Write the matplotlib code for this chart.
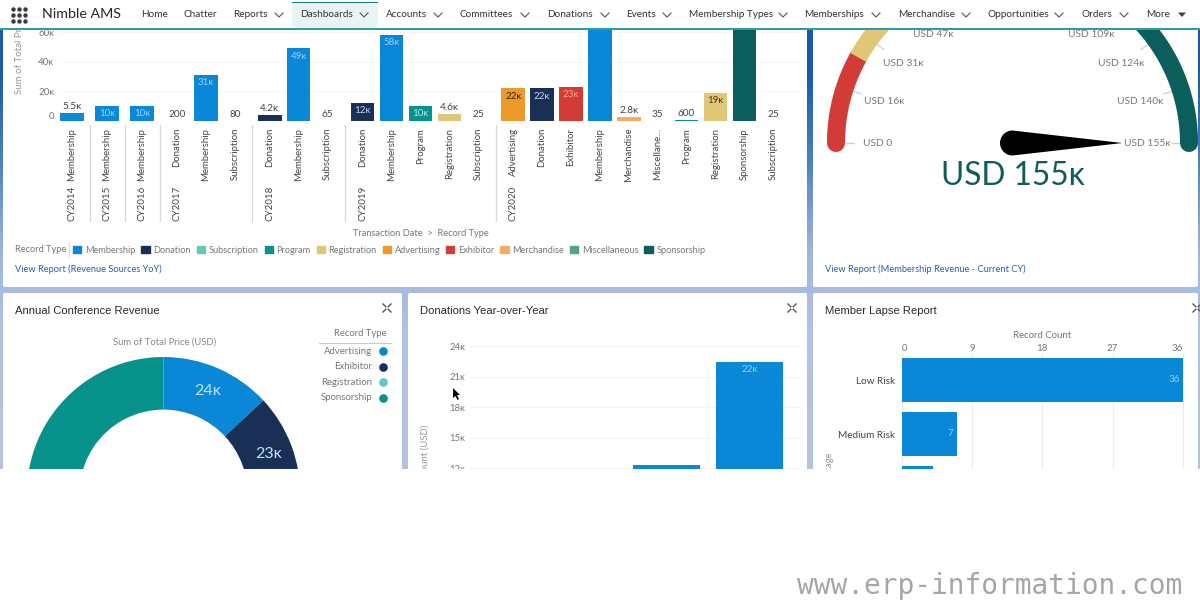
# plot.py
# Salesforce style dashboard screenshot: bars, gauge, donut, two cut off charts
import numpy as np
import matplotlib
matplotlib.use("Agg")
import matplotlib.pyplot as plt
from matplotlib.patches import FancyBboxPatch, Patch, Polygon, Rectangle

plt.rcParams['font.family'] = ['Lato', 'DejaVu Sans']

W, H = 1200, 600

nav_items = ["Home", "Chatter", "Reports", "Dashboards", "Accounts", "Committees", "Donations",
             "Events", "Membership Types", "Memberships", "Merchandise", "Opportunities", "Orders", "More"]
nav_has_chevron = [False, False, True, True, True, True, True, True, True, True, True, True, True, False]

# revenue sources
year_groups = ["CY2014", "CY2015", "CY2016", "CY2017", "CY2018", "CY2019", "CY2020"]
group_sizes = [1, 1, 1, 3, 3, 5, 10]
record_types = ["Membership", "Membership", "Membership",
                "Donation", "Membership", "Subscription",
                "Donation", "Membership", "Subscription",
                "Donation", "Membership", "Program", "Registration", "Subscription",
                "Advertising", "Donation", "Exhibitor", "Membership", "Merchandise",
                "Miscellaneous", "Program", "Registration", "Sponsorship", "Subscription"]
revenue = [5500, 10000, 10000,
           200, 31000, 80,
           4200, 49000, 65,
           12000, 58000, 10000, 4600, 25,
           22000, 22000, 23000, 155000, 2800,
           35, 600, 19000, 90000, 25]
legend_types = ["Membership", "Donation", "Subscription", "Program", "Registration",
                "Advertising", "Exhibitor", "Merchandise", "Miscellaneous", "Sponsorship"]
type_colors = {"Membership": "#0b87d8", "Donation": "#1a2f55", "Subscription": "#62c9b8",
               "Program": "#06918a", "Registration": "#e0c777", "Advertising": "#ee9a2a",
               "Exhibitor": "#d23c36", "Merchandise": "#f7ab63", "Miscellaneous": "#55a089",
               "Sponsorship": "#0a5f5c"}
inside_label_colors = {"Membership": "#8ad4ff", "Donation": "#c5d3f2", "Program": "#a8f0ea",
                       "Registration": "#4a3c10", "Advertising": "#3a2405", "Exhibitor": "#ffa398"}

# gauge
gauge_max = 155
gauge_tick_values = [0, 15.5, 31, 46.5, 108.5, 124, 139.5, 155]
gauge_tick_labels = ["USD 0", "USD 16ĸ", "USD 31ĸ", "USD 47ĸ", "USD 109ĸ", "USD 124ĸ", "USD 140ĸ", "USD 155ĸ"]
gauge_segment_ends = [25, 60, 155]
gauge_segment_colors = ["#d23c36", "#e0c777", "#0a5f5c"]
gauge_value = 155

# annual conference
conf_types = ["Advertising", "Exhibitor", "Registration", "Sponsorship"]
conf_values = [24, 23, 22, 115]
conf_labels = ["24ĸ", "23ĸ"]
conf_colors = ["#0b87d8", "#1a2f55", "#62c9b8", "#06918a"]

# donations
donation_years = ["CY2018", "CY2019", "CY2020"]
donation_values = [4.2, 12.3, 22.4]
donation_ticks = [12, 15, 18, 21, 24]

# member lapse
lapse_cats = ["Low Risk", "Medium Risk", "High Risk"]
lapse_counts = [36, 7, 4]
lapse_ticks = [0, 9, 18, 27, 36]

LABEL = "#454545"
LINK = "#2a5ea8"
TITLE = "#2b2b2b"
TITLE_FONT = ["Liberation Sans", "DejaVu Sans"]


def fmt_k(v):
    if v < 1000:
        return str(v)
    if v >= 10000:
        return f"{round(v / 1000)}ĸ"
    return f"{v / 1000:.1f}ĸ"


def px_axes(x0, y0, x1, y1, zorder=2):
    ax = fig.add_axes([x0 / W, 1 - y1 / H, (x1 - x0) / W, (y1 - y0) / H], zorder=zorder)
    ax.patch.set_visible(False)
    return ax


def bare(ax):
    for s in ax.spines.values():
        s.set_visible(False)
    ax.tick_params(length=0)


fig = plt.figure(figsize=(12, 6), dpi=100, facecolor="white")

# page layer, in pixels
bg = px_axes(0, 0, W, H, zorder=0)
bg.axis("off")
grad = np.array([[0.10, 0.36, 0.66], [0.30, 0.50, 0.75], [0.62, 0.71, 0.86], [0.71, 0.76, 0.89], [0.72, 0.76, 0.89]])
bg.imshow(grad[:, None, :], extent=(0, W, 470, 29), aspect="auto", interpolation="bilinear", zorder=0)
bg.set_xlim(0, W)
bg.set_ylim(H, 0)
for x0, y0, x1, y1 in [(3, 20, 807, 287), (813, 20, 1198, 287), (3, 293, 402, 480), (408, 293, 807, 480), (813, 293, 1198, 480)]:
    bg.add_patch(FancyBboxPatch((x0 + 2, y0 + 2), x1 - x0 - 4, y1 - y0 - 4, boxstyle="round,pad=2",
                                fc="white", ec="none", zorder=1))

# revenue bars
ax1 = px_axes(60, 29, 800, 121)
pos = []
p = 0.0
slot = 28.9
gap = 35 / slot
group_first = []
group_seps = []
for size in group_sizes:
    group_first.append(p)
    pos.extend(p + i for i in range(size))
    p += size - 1
    group_seps.append(p + gap / 2)
    p += gap
pos = np.array(pos)
x_left = -(72 - 60) / slot
ax1.bar(pos, revenue, width=0.81, color=[type_colors[t] for t in record_types], zorder=3)
ax1.set_yticks([0, 20000, 40000, 60000], ["0", "20ĸ", "40ĸ", "60ĸ"], fontsize=7, color="#777777")
ax1.set_xticks(pos, [t if t != "Miscellaneous" else "Miscellane..." for t in record_types],
               rotation=90, fontsize=6.9, color=LABEL)
ax1.set_xlim(x_left, x_left + 740 / slot)
ax1.set_ylim(0, 92 / 1.48 * 1000)
bare(ax1)
ax1.tick_params(axis="x", pad=5)
ax1.tick_params(axis="y", pad=4)
ax1.get_yticklabels()[0].set_verticalalignment("bottom")
ax1.grid(axis="y", color="#f6f6f6", lw=0.7, zorder=0)
for x, v, t in zip(pos, revenue, record_types):
    if v > ax1.get_ylim()[1]:
        continue
    if v >= 10000:
        ax1.annotate(fmt_k(v), (x, v), xytext=(0, -5.5), textcoords="offset points", ha="center", va="center",
                     fontsize=7, color=inside_label_colors[t], zorder=4)
    else:
        ax1.annotate(fmt_k(v), (x, v), xytext=(0, 1.5), textcoords="offset points", ha="center",
                     va="bottom", fontsize=7.2, color=LABEL, zorder=4)
for g, x in zip(year_groups, group_first):
    ax1.annotate(g, (x, 0), xytext=(0, -46.5), textcoords="offset points", ha="center", va="top",
                 rotation=90, fontsize=7, color=LABEL, annotation_clip=False)
for x in group_seps[:-1]:
    ax1.plot([x, x], [-4 / 1.48 * 1000, -100 / 1.48 * 1000], color="#d9d9d9", lw=0.9, clip_on=False)
bg.text(421, 233.5, "Transaction Date  >  Record Type", ha="center", va="center", fontsize=6.7, color="#777777")
bg.text(20, 94, "Sum of Total Pri", rotation=90, ha="center", va="bottom", fontsize=7, color="#999999", zorder=2)

bg.text(15, 250, "Record Type", va="center", fontsize=6.7, color="#777777")
bg.plot([68.5, 68.5], [243, 257], color="#dddddd", lw=0.8, zorder=2)
handles = [Patch(color=type_colors[t], label=t) for t in legend_types]
leg = fig.legend(handles=handles, ncol=10, loc="center left", bbox_to_anchor=(73 / W, 1 - 250 / H), frameon=False,
                 fontsize=6.6, labelcolor="#777777", handlelength=0.9, handleheight=0.9, handletextpad=0.4,
                 columnspacing=0.65, borderpad=0, borderaxespad=0)
leg.set_zorder(3)
bg.text(15, 269.5, "View Report (Revenue Sources YoY)", va="center", fontsize=6.7, color=LINK)

# gauge, centre of the dial is the data origin
gx, gy = 1012.5, 143
ax2 = px_axes(813, 29, 1198, 287)
ax2.set_xlim(813 - gx, 1198 - gx)
ax2.set_ylim(gy - 287, gy - 29)
ax2.axis("off")


def val_angle(v):
    return np.pi * (1 - v / gauge_max)


R = 176.5
start = 0
for i, (end, c) in enumerate(zip(gauge_segment_ends, gauge_segment_colors)):
    th = np.linspace(val_angle(start), val_angle(end), 80)
    cap = "round" if i in (0, len(gauge_segment_ends) - 1) else "butt"
    ax2.plot(R * np.cos(th), R * np.sin(th), color=c, lw=13, solid_capstyle=cap, zorder=2 + (i == 1))
    start = end
for v, lab in zip(gauge_tick_values, gauge_tick_labels):
    a = val_angle(v)
    ax2.plot([159 * np.cos(a), 167 * np.cos(a)], [159 * np.sin(a), 167 * np.sin(a)], color="#cfcfcf", lw=0.9, zorder=1)
    ax2.text(134.5 * np.cos(a), 134.5 * np.sin(a), lab, ha="center", va="center", fontsize=7.4, color="#777777", zorder=4)
a = val_angle(gauge_value)
arc = np.linspace(a + np.pi / 2, a + 3 * np.pi / 2, 40)
needle = np.column_stack([12.5 * np.cos(arc), 12.5 * np.sin(arc)])
needle = np.vstack([needle, [110 * np.cos(a), 110 * np.sin(a)]])
ax2.add_patch(Polygon(needle, closed=True, fc="black", ec="none", zorder=3))
ax2.text(0, -33, "USD 155ĸ", ha="center", va="center", fontsize=22.8, color="#0f5c5c", zorder=4)
bg.text(825, 269.5, "View Report (Membership Revenue - Current CY)", va="center", fontsize=6.7, color=LINK)

# titles of lower row
bg.text(15, 311.5, "Annual Conference Revenue", va="center", fontsize=8.1, color=TITLE, family=TITLE_FONT)
bg.text(420, 311.5, "Donations Year-over-Year", va="center", fontsize=8.1, color=TITLE, family=TITLE_FONT)
bg.text(825, 311.5, "Member Lapse Report", va="center", fontsize=8.1, color=TITLE, family=TITLE_FONT)

# donut
cx, cy = 163.5, 493.6
ax3 = px_axes(3, 350, 402, 469)
ax3.pie(conf_values, colors=conf_colors, startangle=90, counterclock=False, radius=136.6,
        wedgeprops=dict(width=136.6 - 84, linewidth=0), frame=False)
ax3.set_aspect("auto")
ax3.set_xlim(3 - cx, 402 - cx)
ax3.set_ylim(cy - 469, cy - 350)
theta = 0.0
total = sum(conf_values)
for v, lab in zip(conf_values, conf_labels):
    mid = np.pi / 2 - (theta + v / 2) / total * 2 * np.pi
    ax3.text(112 * np.cos(mid), 112 * np.sin(mid), lab, ha="center", va="center", fontsize=11.5, color="#bfe6ff", zorder=5)
    theta += v
bg.text(165, 342, "Sum of Total Price (USD)", ha="center", va="center", fontsize=6.8, color="#888888")
bg.text(386, 334, "Record Type", ha="right", va="center", fontsize=6.8, color="#777777")
bg.plot([319, 391], [342.5, 342.5], color="#cccccc", lw=0.8, zorder=2)
for i, (t, c) in enumerate(zip(conf_types, conf_colors)):
    y = 351.3 + 15.4 * i
    bg.text(372, y, t, ha="right", va="center", fontsize=6.9, color="#777777", zorder=2)
    bg.plot(383, y, "o", ms=6.2, color=c, mew=0, zorder=2)

# donations bars
ax4 = px_axes(470, 340, 800, 469)
px_per_k = 10.2
ax4.bar(range(len(donation_values)), donation_values, width=0.8, color="#0b87d8", zorder=3)
ax4.set_yticks(donation_ticks, [f"{t}ĸ" for t in donation_ticks], fontsize=6.9, color="#777777")
ax4.set_xticks([])
ax4.set_ylim(24 - (469 - 346) / px_per_k, 24 + 6 / px_per_k)
ax4.set_xlim(2 - (749.5 - 470) / 83.3, 2 + (800 - 749.5) / 83.3)
bare(ax4)
ax4.tick_params(axis="y", pad=3.5)
ax4.grid(axis="y", color="#f3f3f3", lw=0.8, zorder=0)
ax4.annotate(f"{round(donation_values[2])}ĸ", (2, donation_values[2]), xytext=(0, -5), textcoords="offset points",
             ha="center", va="center", fontsize=7, color="#8ad4ff", zorder=4)
bg.text(425, 425, "Sum of Amount (USD)", rotation=90, ha="center", va="top", fontsize=6.9, color="#999999", zorder=2)

# member lapse bars
ax5 = px_axes(902, 353, 1190, 469)
ax5.barh(range(len(lapse_counts)), lapse_counts, height=0.8, color="#0b87d8", zorder=3)
ax5.xaxis.tick_top()
ax5.set_xticks(lapse_ticks, [str(t) for t in lapse_ticks], fontsize=7, color="#777777")
ax5.set_yticks(range(len(lapse_cats)), lapse_cats, fontsize=7.2, color=LABEL)
ax5.set_xlim(0, (1190 - 902) / 7.8)
ax5.set_ylim((469 - 380) / 54, (353 - 380) / 54)
bare(ax5)
ax5.tick_params(axis="y", pad=5)
ax5.tick_params(axis="x", pad=0)
ax5.get_xticklabels()[0].set_horizontalalignment("left")
ax5.get_xticklabels()[-1].set_horizontalalignment("right")
ax5.grid(axis="x", color="#ececec", lw=0.8, zorder=0)
for i, v in enumerate(lapse_counts[:2]):
    ax5.annotate(str(v), (v, i), xytext=(-2.5, 0), textcoords="offset points", ha="right", va="center",
                 fontsize=7, color="#8ad4ff", zorder=4)
bg.text(1042, 335, "Record Count", ha="center", va="center", fontsize=6.9, color="#777777")
bg.text(830, 452, "Lapse Stage", rotation=90, ha="center", va="top", fontsize=6.8, color="#999999", zorder=2)

# top layer: nav bar, bottom white area, icons, cursor
top = px_axes(0, 0, W, H, zorder=10)
top.set_xlim(0, W)
top.set_ylim(H, 0)
top.axis("off")
top.add_patch(Rectangle((0, 469), W, 131, fc="white", ec="none", zorder=1))
top.add_patch(Rectangle((0, 0), W, 28, fc="white", ec="none", zorder=1))
top.add_patch(Rectangle((0, 27.5), W, 2, fc="#2f9aa8", ec="none", zorder=2))
top.add_patch(Rectangle((292, 2), 86, 25, fc="#eaf4f5", ec="none", zorder=2))
top.add_patch(Rectangle((292, 1.5), 86, 1.4, fc="#13807f", ec="none", zorder=3))
for ix in (13, 19, 25):
    for iy in (8.5, 14.5, 20.5):
        top.plot(ix, iy, "o", ms=3.2, color="#3a3a3a", mew=0, zorder=3)
top.text(42, 14.5, "Nimble AMS", va="center", fontsize=10.3, color="#2a2a2a", zorder=3)
nav_x = [141, 184, 233, 300, 386, 460, 547, 626, 689, 804, 898, 988, 1082, 1146]
chev_x = [None, None, 279, 364, 438, 525, 605, 667, 783, 876, 966, 1059, 1124, None]
for name, x, has, cx_ in zip(nav_items, nav_x, nav_has_chevron, chev_x):
    top.text(x, 14.5, name, va="center", fontsize=7.2, color="#333333", zorder=4)
    if has:
        top.plot([cx_ - 4, cx_, cx_ + 4], [13, 17, 13], color="#555555", lw=0.8, zorder=4)
top.add_patch(Polygon([(1178, 12.5), (1186, 12.5), (1182, 17)], closed=True, fc="#444444", ec="none", zorder=4))
for ex in (387, 792, 1197):
    for sx, sy in [(-1, -1), (1, -1), (-1, 1), (1, 1)]:
        top.plot([ex + sx * 1.2, ex + sx * 4], [308 + sy * 1.2, 308 + sy * 4], color="#555555", lw=1, zorder=4)
top.add_patch(Polygon([(453, 388), (453, 398), (455.5, 396), (457.5, 400), (459, 399), (457, 395), (460, 395)],
                      closed=True, fc="black", ec="none", zorder=5))
top.text(990, 586, "www.erp-information.com", ha="center", va="center", fontsize=20.1,
         family=["DejaVu Sans Mono"], color="#a6a6a6", zorder=4)

fig.savefig("out.png", dpi=100)
